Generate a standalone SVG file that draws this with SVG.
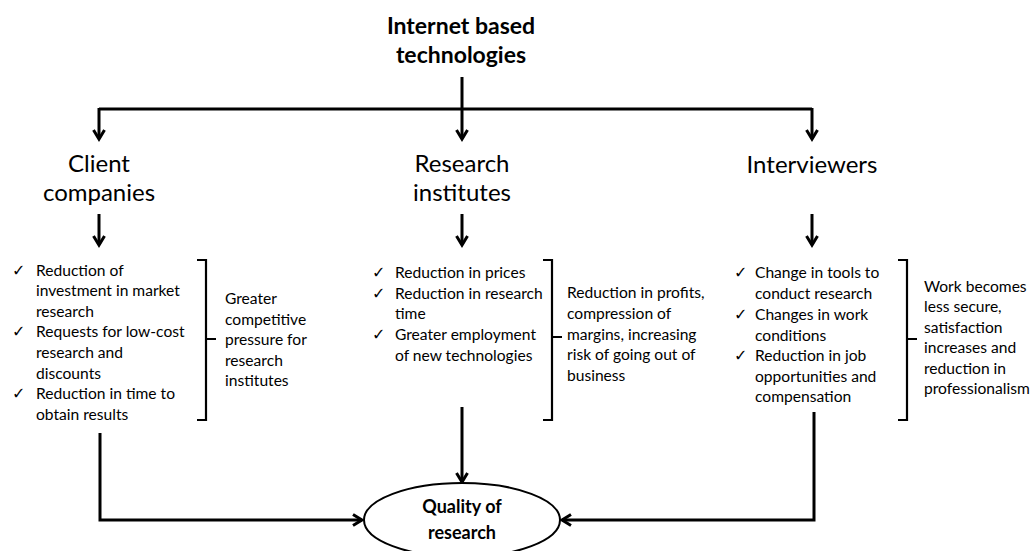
<svg xmlns="http://www.w3.org/2000/svg" width="1031" height="551" viewBox="0 0 1031 551">
<defs>
<marker id="ah" markerWidth="14" markerHeight="14" refX="11" refY="7" orient="auto" markerUnits="userSpaceOnUse">
<path d="M2,1.5 L11,7 L2,12.5" fill="none" stroke="#000" stroke-width="3"/>
</marker>
<style>
.t{font-family:Lato,"Open Sans",sans-serif;fill:#000}
.h{font-size:24px}
.s{font-size:15.6px}
.b{font-weight:bold}
.ck{font-family:"DejaVu Sans",sans-serif;font-size:16px}
.c{fill:none;stroke:#000;stroke-width:3}
.br{fill:none;stroke:#000;stroke-width:2.2}
</style>
</defs>
<rect width="1031" height="551" fill="#fff"/>
<g id="connectors">
<path class="c" d="M462,77 V139" marker-end="url(#ah)"/>
<path class="c" d="M99,109 H812"/>
<path class="c" d="M99,108 V139" marker-end="url(#ah)"/>
<path class="c" d="M812,108 V139" marker-end="url(#ah)"/>
<path class="c" d="M99,214 V245" marker-end="url(#ah)"/>
<path class="c" d="M462,214 V245" marker-end="url(#ah)"/>
<path class="c" d="M812,214 V245" marker-end="url(#ah)"/>
<path class="c" d="M462,407 V482" marker-end="url(#ah)"/>
<path class="c" d="M100,433 V520 H362" marker-end="url(#ah)"/>
<path class="c" d="M814,412 V520 H562" marker-end="url(#ah)"/>
</g>
<g id="title">
<text class="t b" font-size="23" text-anchor="middle" x="461" y="34">Internet based</text>
<text class="t b" font-size="23" text-anchor="middle" x="461" y="63">technologies</text>
</g>
<g id="client">
<text class="t h" text-anchor="middle" x="99" y="172">Client</text>
<text class="t h" text-anchor="middle" x="99" y="201">companies</text>
</g>
<g id="institutes">
<text class="t h" text-anchor="middle" x="462" y="172">Research</text>
<text class="t h" text-anchor="middle" x="462" y="201">institutes</text>
</g>
<g id="interviewers">
<text class="t h" text-anchor="middle" x="812" y="173">Interviewers</text>
</g>
<g id="client-list">
<text class="ck" x="12" y="276">✓</text>
<text class="ck" x="12" y="337">✓</text>
<text class="ck" x="12" y="399">✓</text>
<text class="t s" x="36" y="276">Reduction of</text>
<text class="t s" x="36" y="296">investment in market</text>
<text class="t s" x="36" y="317">research</text>
<text class="t s" x="36" y="337">Requests for low-cost</text>
<text class="t s" x="36" y="358">research and</text>
<text class="t s" x="36" y="379">discounts</text>
<text class="t s" x="36" y="399">Reduction in time to</text>
<text class="t s" x="36" y="420">obtain results</text>
<path class="br" d="M197,260 H206 V420 H197 M206,339 H216"/>
</g>
<g id="client-effect">
<text class="t s" x="225" y="304">Greater</text>
<text class="t s" x="225" y="325">competitive</text>
<text class="t s" x="225" y="345">pressure for</text>
<text class="t s" x="225" y="366">research</text>
<text class="t s" x="225" y="386">institutes</text>
</g>
<g id="institutes-list">
<text class="ck" x="372" y="278">✓</text>
<text class="ck" x="372" y="299">✓</text>
<text class="ck" x="372" y="340">✓</text>
<text class="t s" x="395" y="278">Reduction in prices</text>
<text class="t s" x="395" y="299">Reduction in research</text>
<text class="t s" x="395" y="319">time</text>
<text class="t s" x="395" y="340">Greater employment</text>
<text class="t s" x="395" y="361">of new technologies</text>
<path class="br" d="M543,260 H552 V420 H543 M552,337 H562"/>
</g>
<g id="institutes-effect">
<text class="t s" x="567" y="298">Reduction in profits,</text>
<text class="t s" x="567" y="319">compression of</text>
<text class="t s" x="567" y="340">margins, increasing</text>
<text class="t s" x="567" y="360">risk of going out of</text>
<text class="t s" x="567" y="381">business</text>
</g>
<g id="interviewers-list">
<text class="ck" x="734" y="278">✓</text>
<text class="ck" x="734" y="320">✓</text>
<text class="ck" x="734" y="361">✓</text>
<text class="t s" x="755" y="278">Change in tools to</text>
<text class="t s" x="755" y="299">conduct research</text>
<text class="t s" x="755" y="320">Changes in work</text>
<text class="t s" x="755" y="341">conditions</text>
<text class="t s" x="755" y="361">Reduction in job</text>
<text class="t s" x="755" y="382">opportunities and</text>
<text class="t s" x="755" y="402">compensation</text>
<path class="br" d="M898,260 H907 V420 H898 M907,339 H917"/>
</g>
<g id="interviewers-effect">
<text class="t s" x="924" y="292">Work becomes</text>
<text class="t s" x="924" y="312">less secure,</text>
<text class="t s" x="924" y="333">satisfaction</text>
<text class="t s" x="924" y="353">increases and</text>
<text class="t s" x="924" y="374">reduction in</text>
<text class="t s" x="924" y="394">professionalism</text>
</g>
<g id="quality">
<ellipse cx="462" cy="520" rx="98" ry="37" fill="#fff" stroke="#000" stroke-width="2"/>
<text class="t b" font-size="18" text-anchor="middle" x="462" y="513">Quality of</text>
<text class="t b" font-size="18" text-anchor="middle" x="462" y="539">research</text>
</g>
</svg>
